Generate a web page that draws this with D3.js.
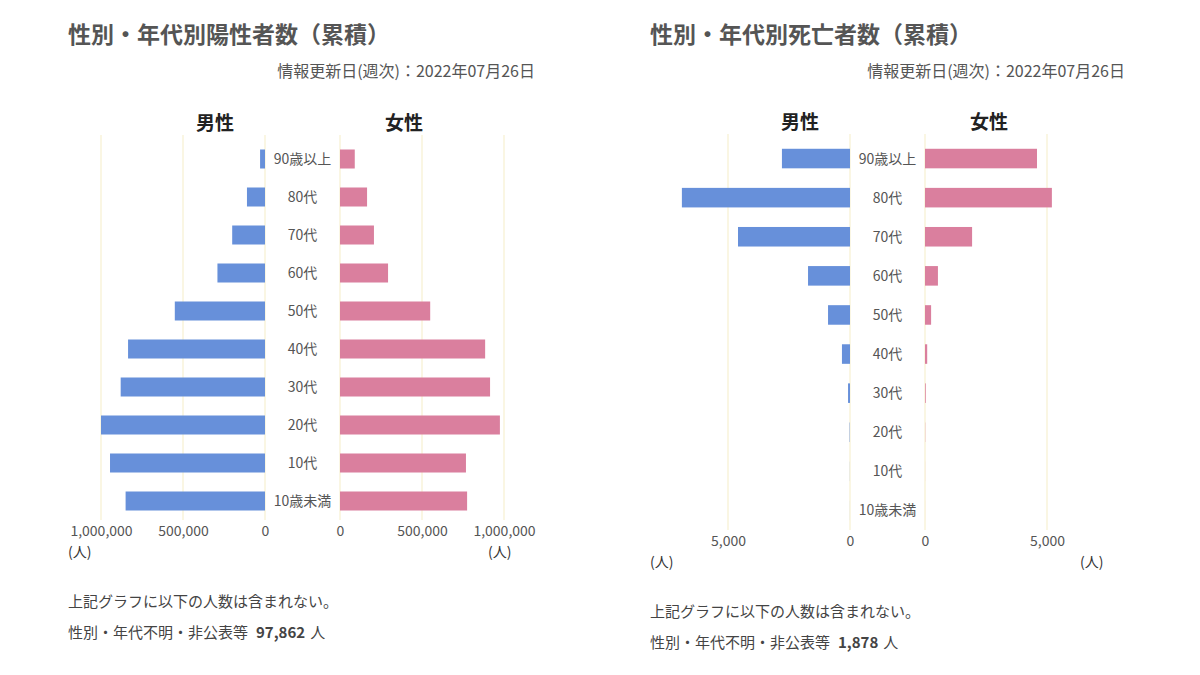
<!DOCTYPE html>
<html><head><meta charset="utf-8">
<script src="https://cdn.jsdelivr.net/npm/d3@7"></script>
<style>body{margin:0;background:#fff;font-family:"Noto Sans CJK JP","Noto Sans",sans-serif}</style>
</head><body><svg id="c" width="1200" height="675"></svg>
<script>
const ages = ["90歳以上","80代","70代","60代","50代","40代","30代","20代","10代","10歳未満"];
const posMale = [30000,110000,200000,290000,550000,835000,880000,1000000,945000,850000];
const posFemale = [90000,165000,207000,293000,550000,885000,915000,975000,768000,775000];
const deathMale = [2790,6890,4590,1720,900,330,80,15,4,2];
const deathFemale = [4590,5200,1930,530,250,90,30,8,2,1];
const posTicks = [0,500000,1000000];
const deathTicks = [0,5000];

const svg = d3.select("#c");
const fmt = d3.format(",");

function panel(o){
  const g = svg.append("g");
  g.append("text").attr("x",o.x0).attr("y",o.titleY).attr("font-size",23).attr("font-weight",700).attr("fill","#555").text(o.title);
  g.append("text").attr("x",o.dateX).attr("y",o.titleY+34).attr("text-anchor","end").attr("font-size",16).attr("fill","#555").text("情報更新日(週次)：2022年07月26日");
  const xm = d3.scaleLinear().domain([0,o.max]).range([o.mZero,o.mZero-o.span]);
  const xf = d3.scaleLinear().domain([0,o.max]).range([o.fZero,o.fZero+o.span]);
  const y = d3.scaleBand().domain(ages).range([o.yTop,o.yBot]).paddingInner(0.5).paddingOuter(0.25);
  o.ticks.forEach(t=>{
    [xm(t),xf(t)].forEach(x=>g.append("line").attr("x1",x).attr("x2",x).attr("y1",o.yTop-5).attr("y2",o.yBot).attr("stroke","#f7f0d0").attr("stroke-width",1.2));
  });
  g.append("text").attr("x",o.mZero-50).attr("y",o.yTop-10).attr("text-anchor","middle").attr("font-size",19).attr("font-weight",700).attr("fill","#222").text("男性");
  g.append("text").attr("x",o.fZero+64).attr("y",o.yTop-10).attr("text-anchor","middle").attr("font-size",19).attr("font-weight",700).attr("fill","#222").text("女性");
  g.selectAll(".m").data(ages).join("rect").attr("x",(d,i)=>xm(o.male[i])).attr("width",(d,i)=>xm(0)-xm(o.male[i]))
    .attr("y",d=>y(d)).attr("height",y.bandwidth()).attr("fill","#6790da");
  g.selectAll(".f").data(ages).join("rect").attr("x",xf(0)).attr("width",(d,i)=>xf(o.female[i])-xf(0))
    .attr("y",d=>y(d)).attr("height",y.bandwidth()).attr("fill","#da7f9e");
  g.selectAll(".a").data(ages).join("text").attr("x",(o.mZero+o.fZero)/2).attr("y",d=>y(d)+y.bandwidth()/2+5)
    .attr("text-anchor","middle").attr("font-size",14).attr("fill","#555").text(d=>d);
  const ay = o.yBot+17;
  const am = g.append("g").attr("transform",`translate(0,${ay-14})`).call(d3.axisBottom(xm).tickValues(o.ticks).tickFormat(fmt).tickSize(0));
  const af = g.append("g").attr("transform",`translate(0,${ay-14})`).call(d3.axisBottom(xf).tickValues(o.ticks).tickFormat(fmt).tickSize(0));
  [am,af].forEach(a=>{a.select(".domain").remove();a.selectAll("text").attr("font-size",14).attr("fill","#555").attr("font-family","Noto Sans CJK JP");});
  g.append("text").attr("x",o.x0).attr("y",ay+20).attr("font-size",14).attr("fill","#333").text("(人)");
  g.append("text").attr("x",o.unitRX).attr("y",ay+20).attr("font-size",14).attr("fill","#333").text("(人)");
  g.append("text").attr("x",o.x0).attr("y",o.noteY).attr("font-size",15).attr("fill","#444").text("上記グラフに以下の人数は含まれない。");
  const t = g.append("text").attr("x",o.x0).attr("y",o.noteY+31).attr("font-size",15).attr("fill","#444").attr("xml:space","preserve");
  t.append("tspan").text("性別・年代不明・非公表等");
  t.append("tspan").attr("dx",8).attr("font-weight",700).text(o.unknown);
  t.append("tspan").attr("dx",5).text("人");
}
panel({x0:68,titleY:43,dateX:535,title:"性別・年代別陽性者数（累積）",max:1000000,mZero:265,fZero:340,span:164,
  yTop:140,yBot:520,ticks:posTicks,male:posMale,female:posFemale,unitRX:488,noteY:607,unknown:"97,862"});
panel({x0:650,titleY:43,dateX:1125,title:"性別・年代別死亡者数（累積）",max:5000,mZero:850,fZero:925,span:122,
  yTop:139,yBot:530,ticks:deathTicks,male:deathMale,female:deathFemale,unitRX:1080,noteY:617,unknown:"1,878"});
</script></body></html>
